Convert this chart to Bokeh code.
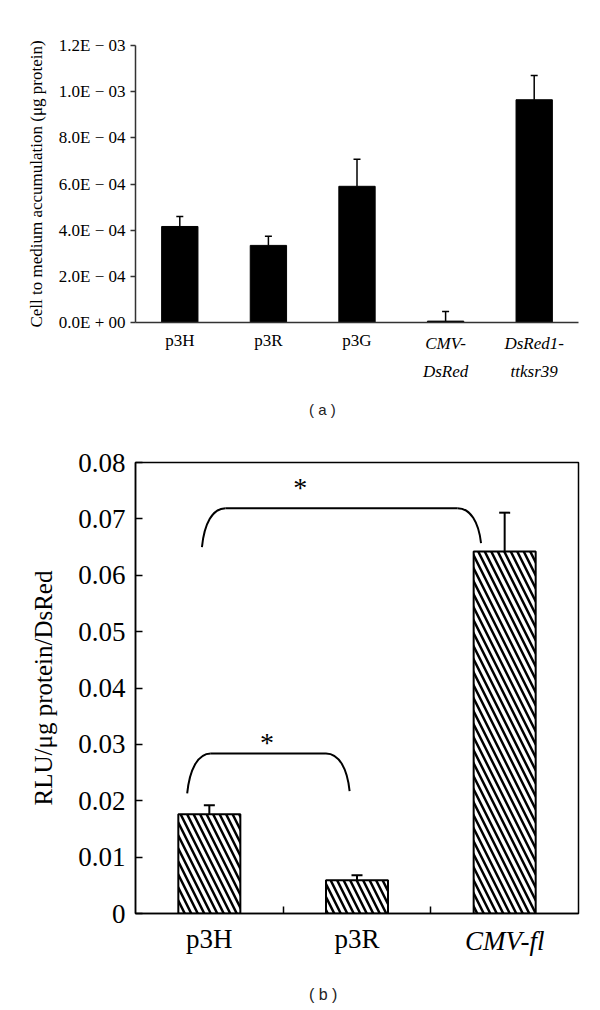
from bokeh.plotting import figure
from bokeh.models import (Range1d, FixedTicker, Whisker, TeeHead, LinearAxis,
                          ColumnDataSource, Div)
from bokeh.layouts import column
from bokeh.embed import file_html
from bokeh.resources import INLINE
from bokeh.core.properties import value

# ---------------- data: panel (a) ----------------
cats_a = ["p3H", "p3R", "p3G", "CMV-DsRed", "DsRed1-ttksr39"]
labels_a = ["p3H", "p3R", "p3G", "CMV-\nDsRed", "DsRed1-\nttksr39"]
italic_a = [False, False, False, True, True]
vals_a = [4.16e-4, 3.34e-4, 5.90e-4, 6e-6, 9.65e-4]
err_a = [0.43e-4, 0.40e-4, 1.17e-4, 4.2e-5, 1.05e-4]
yticks_a = [0, 2e-4, 4e-4, 6e-4, 8e-4, 1e-3, 1.2e-3]
yticklabels_a = ["0.0E + 00", "2.0E \u2212 04", "4.0E \u2212 04", "6.0E \u2212 04",
                 "8.0E \u2212 04", "1.0E \u2212 03", "1.2E \u2212 03"]
ylabel_a = "Cell to medium accumulation (\u03bcg protein)"

# ---------------- data: panel (b) ----------------
cats_b = ["p3H", "p3R", "CMV-fl"]
italic_b = [False, False, True]
vals_b = [0.0176, 0.0059, 0.0642]
err_b = [0.0016, 0.0009, 0.0069]
yticks_b = [0, 0.01, 0.02, 0.03, 0.04, 0.05, 0.06, 0.07, 0.08]
yticklabels_b = ["0", "0.01", "0.02", "0.03", "0.04", "0.05", "0.06", "0.07", "0.08"]
ylabel_b = "RLU/\u03bcg protein/DsRed"
# significance braces (x in category units, y in data units)
brace_x0 = [0.45, 0.35]
brace_x1 = [2.34, 1.45]
brace_top = [0.0719, 0.0284]
brace_y0 = [0.0650, 0.0213]
brace_y1 = [0.0657, 0.0217]
star_x = [1.115, 0.89]
star_y = [0.0755, 0.0304]

SERIF = "Liberation Serif"


def style_cat_axis(ax, size, standoff, italic, line_h=1.2):
    ax.axis_line_color = None
    ax.major_tick_line_color = None
    ax.minor_tick_line_color = None
    ax.major_label_text_font = SERIF
    ax.major_label_text_font_size = size
    ax.major_label_text_color = "black"
    ax.major_label_text_font_style = "italic" if italic else "normal"
    ax.major_label_text_line_height = line_h
    ax.major_label_standoff = standoff


# ================= panel (a) =================
xs_a = [i + 0.5 for i in range(len(cats_a))]
p1 = figure(width=590, height=400, x_range=Range1d(0, len(cats_a)),
            y_range=Range1d(0, 1.2e-3), output_backend="svg", toolbar_location=None,
            min_border_left=132, min_border_right=10, min_border_top=45, min_border_bottom=78)
p1.outline_line_color = None
p1.grid.grid_line_color = None
p1.background_fill_color = "white"
p1.border_fill_color = "white"

p1.vbar(x=xs_a, top=vals_a, width=0.41, color="black")
src_a = ColumnDataSource(dict(x=xs_a, lower=vals_a,
                              upper=[v + e for v, e in zip(vals_a, err_a)]))
p1.add_layout(Whisker(source=src_a, base="x", lower="lower", upper="upper",
                      upper_head=TeeHead(size=7, line_width=1.5, line_color="black"),
                      lower_head=None, line_width=1.5, line_color="black"))

xa = p1.xaxis[0]
xa.ticker = FixedTicker(ticks=xs_a)
xa.major_label_overrides = {x: ("" if it else l) for x, l, it in zip(xs_a, labels_a, italic_a)}
style_cat_axis(xa, "17px", 2, False, 1.2)
xa.axis_line_color = "#333333"
xa.axis_line_width = 1.5

# italic labels: second axis pulled back up onto the same baseline
xa2 = LinearAxis(ticker=FixedTicker(ticks=xs_a),
                 major_label_overrides={x: (l if it else "") for x, l, it in zip(xs_a, labels_a, italic_a)})
style_cat_axis(xa2, "17px", -25, True, 1.5)
p1.add_layout(xa2, "below")

ya = p1.yaxis[0]
ya.ticker = FixedTicker(ticks=yticks_a)
ya.major_label_overrides = dict(zip(yticks_a, yticklabels_a))
ya.axis_line_color = "#333333"
ya.axis_line_width = 1.5
ya.major_tick_out = 5
ya.major_tick_in = 0
ya.major_tick_line_width = 1.5
ya.major_tick_line_color = "#333333"
ya.minor_tick_line_color = None
ya.major_label_text_font = SERIF
ya.major_label_text_font_size = "17px"
ya.major_label_text_color = "black"
ya.major_label_standoff = 5
ya.axis_label = ylabel_a
ya.axis_label_text_font = SERIF
ya.axis_label_text_font_size = "17px"
ya.axis_label_text_font_style = "normal"
ya.axis_label_text_color = "black"
ya.axis_label_standoff = 10

cap_a = Div(text='<div style="padding-left:309px;padding-top:2px;font-family:\'Liberation Sans\';'
                 'font-size:15px;line-height:15px;color:#222;white-space:pre">( a )</div>',
            width=590, height=22, margin=0)

# ================= panel (b) =================
xs_b = [i + 0.5 for i in range(len(cats_b))]
p2 = figure(width=590, height=563, x_range=Range1d(0, len(cats_b)),
            y_range=Range1d(0, 0.08), output_backend="svg", toolbar_location=None,
            min_border_left=135, min_border_right=12, min_border_top=40, min_border_bottom=72)
p2.outline_line_color = "black"
p2.outline_line_width = 1.5
p2.outline_line_alpha = 1
p2.grid.grid_line_color = None
p2.background_fill_color = "white"
p2.border_fill_color = "white"

p2.vbar(x=xs_b, top=vals_b, width=0.42, fill_color="white", line_color="black",
        line_width=2, hatch_pattern="\\", hatch_color="black", hatch_scale=13,
        hatch_weight=2.5)
src_b = ColumnDataSource(dict(x=xs_b, lower=[v - e for v, e in zip(vals_b, err_b)],
                              upper=[v + e for v, e in zip(vals_b, err_b)]))
p2.add_layout(Whisker(source=src_b, base="x", lower="lower", upper="upper",
                      upper_head=TeeHead(size=11, line_width=2, line_color="black"),
                      lower_head=TeeHead(size=11, line_width=2, line_color="black"),
                      line_width=2, line_color="black"))

# braces
dx = 0.16
for x0, x1, top, y0, y1 in zip(brace_x0, brace_x1, brace_top, brace_y0, brace_y1):
    p2.bezier(x0=[x0, x1], y0=[y0, y1], x1=[x0 + dx, x1 - dx], y1=[top, top],
              cx0=[x0 + 0.1 * dx, x1 - 0.1 * dx],
              cy0=[y0 + 0.6 * (top - y0), y1 + 0.6 * (top - y1)],
              cx1=[x0 + 0.45 * dx, x1 - 0.45 * dx], cy1=[top, top],
              line_color="black", line_width=2)
    p2.segment(x0=[x0 + dx], y0=[top], x1=[x1 - dx], y1=[top],
               line_color="black", line_width=2)
p2.text(x=star_x, y=star_y, text=["*"] * len(star_x), text_font=value(SERIF),
        text_font_size="28px", text_align="center", text_baseline="middle",
        text_color="black")

xb = p2.xaxis[0]
xb.ticker = FixedTicker(ticks=xs_b, minor_ticks=list(range(1, len(cats_b))))
xb.major_label_overrides = {x: ("" if it else c) for x, c, it in zip(xs_b, cats_b, italic_b)}
style_cat_axis(xb, "27px", 4, False)
xb.axis_line_color = "black"
xb.axis_line_width = 1.5
xb.minor_tick_in = 7
xb.minor_tick_out = 0
xb.minor_tick_line_color = "black"
xb.minor_tick_line_width = 1.5

xb2 = LinearAxis(ticker=FixedTicker(ticks=xs_b),
                 major_label_overrides={x: (c if it else "") for x, c, it in zip(xs_b, cats_b, italic_b)})
style_cat_axis(xb2, "27px", -37, True)
p2.add_layout(xb2, "below")

yb = p2.yaxis[0]
yb.ticker = FixedTicker(ticks=yticks_b)
yb.major_label_overrides = dict(zip(yticks_b, yticklabels_b))
yb.axis_line_color = "black"
yb.axis_line_width = 1.5
yb.major_tick_in = 7
yb.major_tick_out = 0
yb.major_tick_line_color = "black"
yb.major_tick_line_width = 1.5
yb.minor_tick_line_color = None
yb.major_label_text_font = SERIF
yb.major_label_text_font_size = "27px"
yb.major_label_text_color = "black"
yb.major_label_standoff = 10
yb.axis_label = ylabel_b
yb.axis_label_text_font = SERIF
yb.axis_label_text_font_size = "25px"
yb.axis_label_text_font_style = "normal"
yb.axis_label_text_color = "black"
yb.axis_label_standoff = 18

cap_b = Div(text='<div style="padding-left:309px;padding-top:2px;font-family:\'Liberation Sans\';'
                 'font-size:16px;line-height:16px;color:#222;white-space:pre">( b )</div>',
            width=590, height=20, margin=0)

layout = column(p1, cap_a, p2, cap_b, spacing=0)
open("out.html", "w").write(file_html(layout, INLINE))
